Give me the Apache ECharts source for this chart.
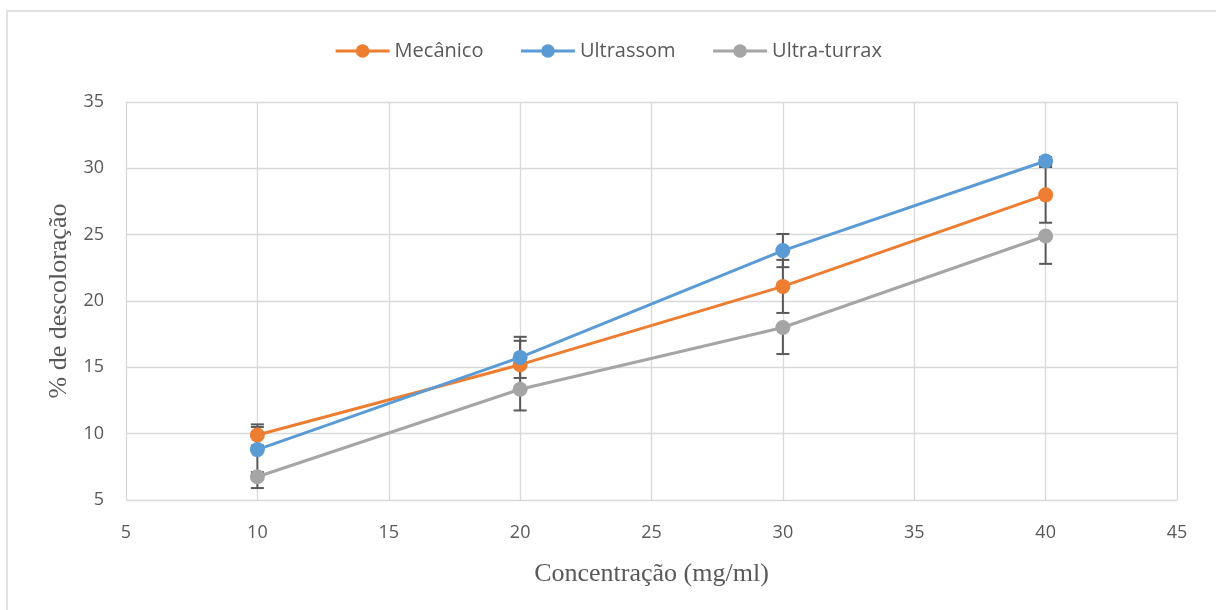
<!DOCTYPE html>
<html>
<head>
<meta charset="utf-8">
<script src="https://cdn.jsdelivr.net/npm/echarts@6/dist/echarts.min.js"></script>
<style>html,body{margin:0;padding:0;background:#fff;}#c{width:1216px;height:610px;}</style>
</head>
<body>
<div id="c"></div>
<script>
const concentrations = [10, 20, 30, 40];
const mecanico = [9.9, 15.2, 21.1, 28.0];
const mecanicoErrPlus = [0.8, 1.8, 2.0, 2.1];
const mecanicoErrMinus = [0.8, 1.8, 2.0, 2.1];
const ultrassom = [8.8, 15.75, 23.8, 30.55];
const ultrassomErrPlus = [1.7, 1.55, 1.25, 0.3];
const ultrassomErrMinus = [1.7, 1.55, 1.25, 0.3];
const ultraTurrax = [6.75, 13.35, 18.0, 24.9];
const ultraTurraxErrPlus = [0, 0, 0, 0];
const ultraTurraxErrMinus = [0.85, 1.6, 2.0, 2.1];
const seriesNames = ['Mecânico', 'Ultrassom', 'Ultra-turrax'];
const colors = ['#ED7D31', '#5B9BD5', '#A5A5A5'];
const xTicks = [5, 10, 15, 20, 25, 30, 35, 40, 45];
const yTicks = [5, 10, 15, 20, 25, 30, 35];

const values = [mecanico, ultrassom, ultraTurrax];
const errPlus = [mecanicoErrPlus, ultrassomErrPlus, ultraTurraxErrPlus];
const errMinus = [mecanicoErrMinus, ultrassomErrMinus, ultraTurraxErrMinus];

const chart = echarts.init(document.getElementById('c'), null, {renderer: 'canvas'});

const lineSeries = values.map((v, i) => ({
  name: seriesNames[i],
  type: 'line',
  data: concentrations.map((x, j) => [x, v[j]]),
  symbol: 'circle',
  symbolSize: 15,
  lineStyle: {color: colors[i], width: 3},
  itemStyle: {color: colors[i]},
  z: 3,
  animation: false
}));

const errSeries = values.map((v, i) => ({
  type: 'custom',
  name: seriesNames[i] + ' err',
  data: concentrations.map((x, j) => [x, v[j] - errMinus[i][j], v[j] + errPlus[i][j], v[j]]),
  renderItem: function (params, api) {
    const x = api.value(0);
    const lo = api.coord([x, api.value(1)]);
    const hi = api.coord([x, api.value(2)]);
    const mid = api.coord([x, api.value(3)]);
    const hw = 6.5;
    const st = {stroke: '#595959', lineWidth: 2};
    const children = [
      {type: 'line', shape: {x1: lo[0], y1: lo[1], x2: hi[0], y2: hi[1]}, style: st}
    ];
    if (Math.abs(lo[1] - mid[1]) > 0.5) {
      children.push({type: 'line', shape: {x1: lo[0] - hw, y1: lo[1], x2: lo[0] + hw, y2: lo[1]}, style: st});
    }
    if (Math.abs(hi[1] - mid[1]) > 0.5) {
      children.push({type: 'line', shape: {x1: hi[0] - hw, y1: hi[1], x2: hi[0] + hw, y2: hi[1]}, style: st});
    }
    return {type: 'group', children: children};
  },
  encode: {x: 0, y: [1, 2]},
  z: 2,
  silent: true,
  animation: false
}));

chart.setOption({
  animation: false,
  backgroundColor: '#fff',
  graphic: [{
    type: 'rect',
    shape: {x: 7, y: 11, width: 1400, height: 800},
    style: {fill: 'none', stroke: '#d9d9d9', lineWidth: 1.5},
    silent: true
  }],
  legend: {
    data: seriesNames,
    top: 36,
    left: 'center',
    itemWidth: 54,
    itemHeight: 17,
    itemGap: 36,
    lineStyle: {width: 3},
    textStyle: {fontFamily: 'Open Sans', fontSize: 20, color: '#595959'}
  },
  grid: {left: 126, right: 39, top: 102, bottom: 110},
  xAxis: {
    type: 'value',
    min: xTicks[0],
    max: xTicks[xTicks.length - 1],
    interval: 5,
    axisLine: {show: false},
    axisTick: {show: false},
    splitLine: {show: true, lineStyle: {color: '#d9d9d9', width: 1.3}},
    axisLabel: {fontFamily: 'Open Sans', fontSize: 18, color: '#595959', margin: 24},
    name: 'Concentração (mg/ml)',
    nameLocation: 'middle',
    nameGap: 61,
    nameTextStyle: {fontFamily: 'Liberation Serif', fontSize: 26, color: '#595959'}
  },
  yAxis: {
    type: 'value',
    min: yTicks[0],
    max: yTicks[yTicks.length - 1],
    interval: 5,
    axisLine: {show: false},
    axisTick: {show: false},
    splitLine: {show: true, lineStyle: {color: '#d9d9d9', width: 1.3}},
    axisLabel: {fontFamily: 'Open Sans', fontSize: 18, color: '#595959', margin: 22},
    name: '% de descoloração',
    nameLocation: 'middle',
    nameGap: 54,
    nameTextStyle: {fontFamily: 'Liberation Serif', fontSize: 26, color: '#595959'}
  },
  series: [...errSeries, ...lineSeries]
});
</script>
</body>
</html>
